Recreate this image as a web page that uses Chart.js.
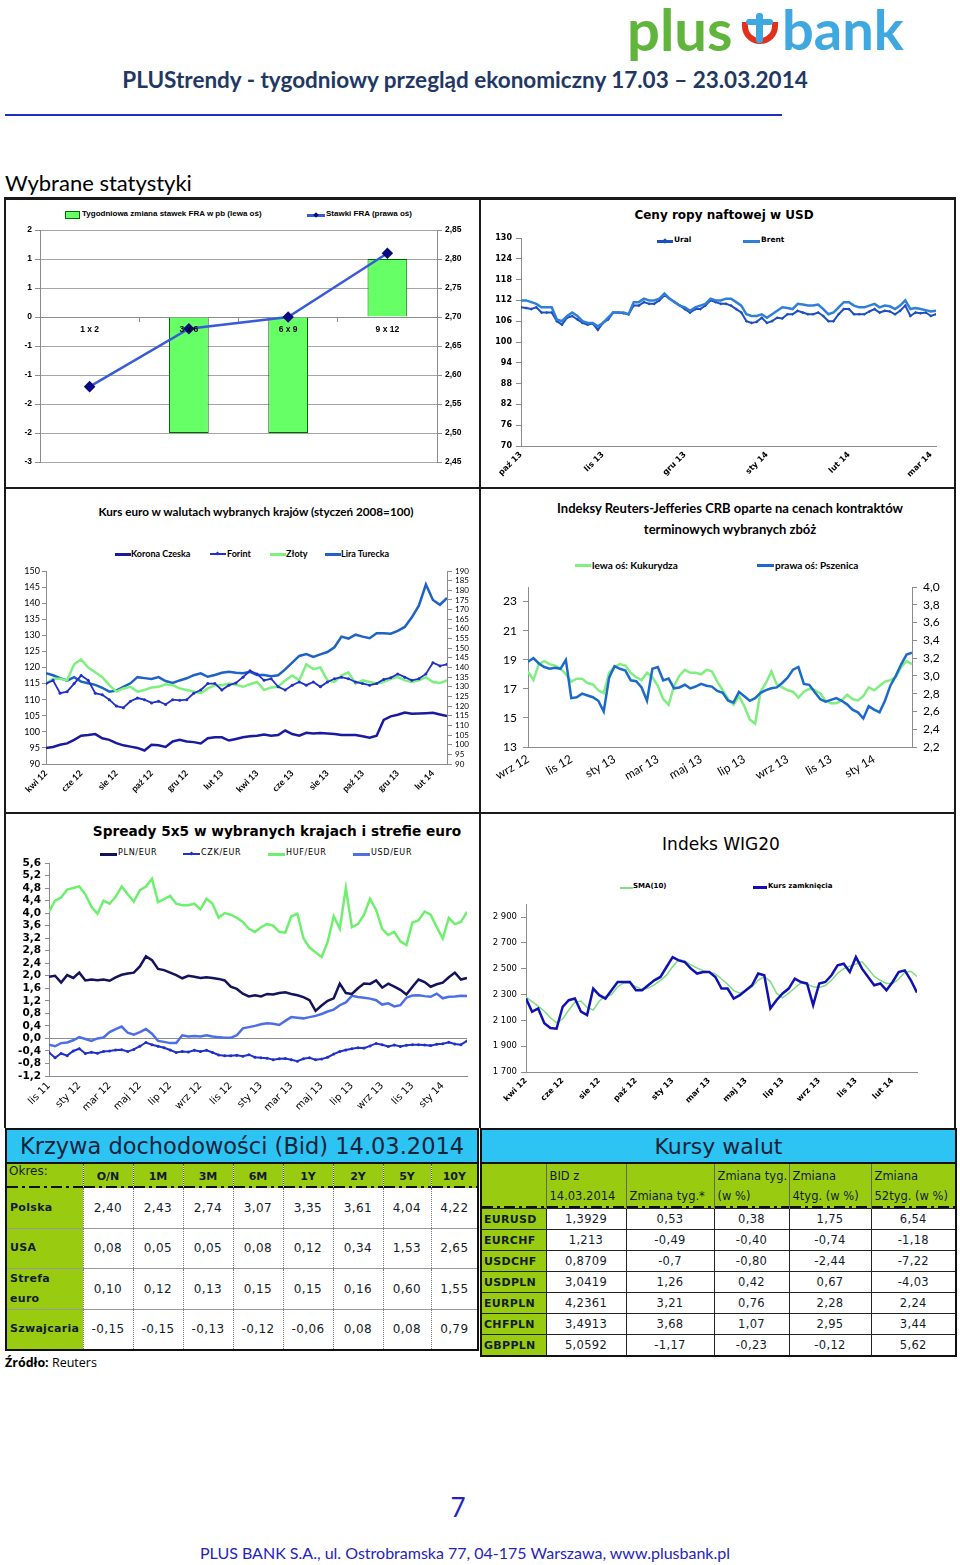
<!DOCTYPE html>
<html lang="pl">
<head>
<meta charset="utf-8">
<title>PLUStrendy 17.03 – 23.03.2014</title>
<script src="https://cdn.jsdelivr.net/npm/chart.js@4.4.1/dist/chart.umd.min.js"></script>
<style>
  html, body { margin: 0; padding: 0; background: #fff; }
  body { width: 960px; height: 1565px; position: relative; overflow: hidden; font-family: Lato, "DejaVu Sans", sans-serif; }
  .a { position: absolute; white-space: nowrap; }
  canvas { position: absolute; }
  .rule { position: absolute; background: #1a1a1a; }
  .tx { position: absolute; white-space: nowrap; line-height: 12px; color: #000; }
  .ln { position: absolute; }
  .mk { position: absolute; width: 4px; height: 4px; transform: rotate(45deg); }
  table { position: absolute; border-collapse: collapse; table-layout: fixed; font-family: "DejaVu Sans", sans-serif; color: #141c2c; }
  td { padding: 0; overflow: hidden; white-space: nowrap; }
  .ttl { background: #2dc3f2; text-align: center; color: #13233a; border-bottom: 2px solid #111; }
  .dd { background-color: #99cc11; background-image: repeating-linear-gradient(90deg, #111 0 11px, transparent 11px 15px, #111 15px 18px, transparent 18px 22px); background-size: 100% 2px; background-repeat: no-repeat; background-position: 0 100%; }
  .gr { background: #99cc11; font-weight: bold; }
  #yc { left: 5px; top: 1128px; width: 472px; border: 2px solid #111; }
  #yc .ttl { font-size: 22.5px; height: 32px; }
  #yc .hdr td { height: 24px; font-size: 11px; font-weight: bold; text-align: center; border-right: 1px dotted #555; }
  #yc .hdr td.ok { font-weight: normal; font-size: 12px; text-align: left; vertical-align: top; padding-left: 2px; }
  #yc .row td { font-size: 12px; letter-spacing: 0.4px; text-align: center; border-right: 1px dotted #777; border-bottom: 1px solid #999; background: #fff; }
  #yc .row td.gr { background: #99cc11; text-align: left; padding-left: 3px; font-size: 11px; letter-spacing: 0.3px; white-space: normal; line-height: 20px; }
  #fx { left: 480px; top: 1128px; width: 475px; border: 2px solid #111; }
  #fx .ttl { font-size: 22px; height: 32px; }
  #fx .hdr td { height: 42px; font-size: 11.5px; text-align: left; vertical-align: bottom; border-right: 1px solid #666; line-height: 20px; padding: 0 0 2px 3px; }
  #fx .row td { height: 20px; font-size: 11.5px; letter-spacing: 0.3px; text-align: center; border: 1px solid #222; background: #fff; }
  #fx .row td.gr { background: #99cc11; text-align: left; padding-left: 2px; font-size: 11px; }
</style>
</head>
<body>

<!-- nagłówek -->
<div class="a" style="left:627px;top:-6px;font:700 58px Lato;line-height:70px;color:#62b53c">plus</div>
<div class="a" style="left:742px;top:22px;width:36px;height:22px;border:6px solid #e2301f;border-top:none;border-radius:0 0 22px 22px;box-sizing:border-box"></div>
<div class="a" style="left:756px;top:13px;width:7px;height:30px;background:#3fa8e0;border-radius:3px"></div>
<div class="a" style="left:746px;top:19px;width:27px;height:6px;background:#3fa8e0;border-radius:3px"></div>
<div class="a" style="left:782px;top:-6px;font:700 56px Lato;line-height:70px;color:#3fa8e0">bank</div>
<div class="a" style="left:0;width:930px;top:65px;text-align:center;font:700 22.5px Lato;line-height:30px;color:#1f3864">PLUStrendy - tygodniowy przegląd ekonomiczny 17.03 – 23.03.2014</div>
<div class="a" style="left:5px;top:114px;width:777px;height:2px;background:#1f2fbf"></div>
<div class="a" style="left:5px;top:169px;font:400 22px Lato;line-height:28px;color:#000">Wybrane statystyki</div>

<!-- ramki -->
<div class="rule" style="left:4px;top:197px;width:952px;height:3px"></div>
<div class="rule" style="left:4px;top:197px;width:2px;height:931px"></div>
<div class="rule" style="left:954px;top:197px;width:2px;height:931px"></div>
<div class="rule" style="left:479px;top:197px;width:2px;height:931px"></div>
<div class="rule" style="left:4px;top:487px;width:952px;height:2px"></div>
<div class="rule" style="left:4px;top:812px;width:952px;height:2px"></div>

<!-- FRA -->
<div class="ln" style="left:65px;top:211px;width:15px;height:8px;background:#66ff66;border:1px solid #006600;box-sizing:border-box"></div>
<div class="tx" style="left:82px;top:209px;font:bold 8px 'Liberation Sans'">Tygodniowa zmiana stawek FRA w pb (lewa oś)</div>
<div class="ln" style="left:307px;top:214px;width:18px;height:2.5px;background:#3a5bd9"></div>
<div class="mk" style="left:314px;top:213px;background:#0a0a80"></div>
<div class="tx" style="left:326px;top:209px;font:bold 8px 'Liberation Sans'">Stawki FRA (prawa oś)</div>
<canvas id="cFra" width="472" height="255" style="left:6px;top:222px"></canvas>

<!-- ropa -->
<div class="tx" style="left:482px;width:484px;text-align:center;top:208px;font:bold 12px 'DejaVu Sans';line-height:15px">Ceny ropy naftowej w USD</div>
<div class="ln" style="left:657px;top:240px;width:16px;height:2.5px;background:#1d4fc0"></div>
<div class="mk" style="left:663px;top:239px;background:#1d4fc0"></div>
<div class="tx" style="left:674px;top:235px;font:bold 7.5px 'DejaVu Sans'">Ural</div>
<div class="ln" style="left:743px;top:240px;width:17px;height:2.5px;background:#2f7fd8"></div>
<div class="tx" style="left:761px;top:235px;font:bold 7.5px 'DejaVu Sans'">Brent</div>
<canvas id="cOil" width="470" height="262" style="left:482px;top:225px"></canvas>

<!-- kurs euro -->
<div class="tx" style="left:6px;width:500px;text-align:center;top:504px;font:bold 11.7px Lato;line-height:14px">Kurs euro w walutach wybranych krajów (styczeń 2008=100)</div>
<div class="ln" style="left:115px;top:553px;width:16px;height:2.5px;background:#1a1aa0"></div>
<div class="tx" style="left:131px;top:548px;font:bold 9px Lato">Korona Czeska</div>
<div class="ln" style="left:210px;top:553px;width:16px;height:2px;background:#2030c8"></div>
<div class="mk" style="left:216px;top:552px;background:#2030c8;width:3px;height:3px"></div>
<div class="tx" style="left:227px;top:548px;font:bold 9px Lato">Forint</div>
<div class="ln" style="left:270px;top:553px;width:16px;height:2.5px;background:#7df07d"></div>
<div class="tx" style="left:286px;top:548px;font:bold 9px Lato">Złoty</div>
<div class="ln" style="left:325px;top:553px;width:16px;height:2.5px;background:#1e63c4"></div>
<div class="tx" style="left:341px;top:548px;font:bold 9px Lato">Lira Turecka</div>
<canvas id="cEur" width="472" height="250" style="left:6px;top:560px"></canvas>

<!-- zboża -->
<div class="tx" style="left:482px;width:496px;text-align:center;top:498px;font:bold 13px Lato;line-height:21px;white-space:normal">Indeksy Reuters-Jefferies CRB oparte na cenach kontraktów<br>terminowych wybranych zbóż</div>
<div class="ln" style="left:575px;top:564px;width:16px;height:3px;background:#80ee80"></div>
<div class="tx" style="left:592px;top:559px;font:bold 10px Lato">lewa oś: Kukurydza</div>
<div class="ln" style="left:757px;top:564px;width:17px;height:3px;background:#1b6ac9"></div>
<div class="tx" style="left:775px;top:559px;font:bold 10px Lato">prawa oś: Pszenica</div>
<canvas id="cGrain" width="470" height="235" style="left:482px;top:570px"></canvas>

<!-- spready -->
<div class="tx" style="left:6px;width:542px;text-align:center;top:823px;font:bold 13.7px 'DejaVu Sans';line-height:17px">Spready 5x5 w wybranych krajach i strefie euro</div>
<div class="ln" style="left:100px;top:853px;width:17px;height:2.5px;background:#12125e"></div>
<div class="tx" style="left:118px;top:848px;font:8px 'DejaVu Sans';letter-spacing:0.7px">PLN/EUR</div>
<div class="ln" style="left:183px;top:853px;width:17px;height:2px;background:#2130c8"></div>
<div class="mk" style="left:190px;top:852px;width:3px;height:3px;background:#2130c8"></div>
<div class="tx" style="left:201px;top:848px;font:8px 'DejaVu Sans';letter-spacing:0.7px">CZK/EUR</div>
<div class="ln" style="left:268px;top:853px;width:17px;height:2.5px;background:#6ef06e"></div>
<div class="tx" style="left:286px;top:848px;font:8px 'DejaVu Sans';letter-spacing:0.7px">HUF/EUR</div>
<div class="ln" style="left:353px;top:853px;width:17px;height:2.5px;background:#4c6fe6"></div>
<div class="tx" style="left:371px;top:848px;font:8px 'DejaVu Sans';letter-spacing:0.7px">USD/EUR</div>
<canvas id="cSpr" width="472" height="280" style="left:6px;top:845px"></canvas>

<!-- WIG20 -->
<div class="tx" style="left:482px;width:478px;text-align:center;top:833px;font:17px 'DejaVu Sans';line-height:22px">Indeks WIG20</div>
<div class="ln" style="left:620px;top:887px;width:13px;height:2px;background:#7ddf7d"></div>
<div class="tx" style="left:633px;top:882px;font:bold 7px 'DejaVu Sans'">SMA(10)</div>
<div class="ln" style="left:753px;top:886px;width:14px;height:3px;background:#1010b4"></div>
<div class="tx" style="left:768px;top:882px;font:bold 7px 'DejaVu Sans'">Kurs zamknięcia</div>
<canvas id="cWig" width="470" height="230" style="left:482px;top:895px"></canvas>

<!-- tabele -->
<table id="yc"></table>
<table id="fx"></table>
<div class="a" style="left:5px;top:1355px;font:12.5px 'Open Sans';line-height:16px;color:#000"><b>Źródło:</b> Reuters</div>

<div class="a" style="left:0;width:916px;text-align:center;top:1491px;font:26px Lato;line-height:32px;color:#2323c8">7</div>
<div class="a" style="left:0;width:930px;text-align:center;top:1543px;font:16px Lato;line-height:20px;color:#2424c0">PLUS BANK S.A., ul. Ostrobramska 77, 04-175 Warszawa, www.plusbank.pl</div>

<script>
// ---- FRA ----
const fraTenors = ['1 x 2', '3 x 6', '6 x 9', '9 x 12'];
const fraChange = [0, -2, -2, 1];
const fraRate = [2.58, 2.68, 2.70, 2.81];
const fraLeftTicks = [-2.5, -2, -1.5, -1, -0.5, 0, 0.5, 1, 1.5];
const fraRightTicks = [2.45, 2.50, 2.55, 2.60, 2.65, 2.70, 2.75, 2.80, 2.85];

// ---- ropa (16 notowań na miesiąc) ----
const oilLabels = ['paź 13', 'lis 13', 'gru 13', 'sty 14', 'lut 14', 'mar 14'];
const oilPerMonth = 16;
const oilTicks = [70, 76, 82, 88, 94, 100, 106, 112, 118, 124, 130];
const oilUral = [110, 109.8, 109.5, 110, 108.5, 108.5, 108.5, 106, 105, 107, 107.5, 106.5, 105.5, 105, 105.3, 103.5,
  105.5, 106.5, 108.5, 108.5, 108.3, 108, 110.5, 110.5, 111.5, 111, 111, 112, 113.5, 112.5, 111.5, 110.5,
  109.5, 108.5, 109.5, 109.5, 110.5, 112, 111.5, 111, 111, 110.5, 109.5, 108.5, 106, 105.5, 105.8, 107,
  105.5, 106, 107, 106.8, 108, 108, 109, 108.5, 108, 108, 108.5, 107.5, 106, 106, 108, 109.5,
  109.5, 108, 108, 108, 108.8, 109.5, 108.5, 109, 108.8, 108, 109, 110.5, 107.5, 108.5, 108.3, 108.5, 107.5, 108];
const oilBrent = [112, 112, 111.5, 111, 110, 110, 110, 106.5, 106, 107.5, 108.5, 107.5, 106, 105.5, 105.5, 104.5,
  105.5, 107, 108.5, 108.5, 108.5, 108, 111.5, 111.5, 112.5, 112, 112, 112.5, 114, 112.5, 111.5, 110.5,
  110, 109, 110, 110.5, 111, 112.5, 112, 112, 112.5, 112.5, 111.5, 110.5, 108, 107.5, 107.5, 108,
  107, 108, 109, 110, 109.8, 109.5, 111, 110.8, 110.5, 110.5, 110.8, 109.5, 108, 108.5, 110, 111.5,
  111.5, 110.5, 110, 110, 110.5, 111, 110, 110.5, 110.3, 109.5, 110.5, 112, 109.5, 109.8, 109.5, 109.2, 108.8, 109];

// ---- kurs euro (5 notowań na 2 miesiące) ----
const eurLabels = ['kwi 12', 'cze 12', 'sie 12', 'paź 12', 'gru 12', 'lut 13', 'kwi 13', 'cze 13', 'sie 13', 'paź 13', 'gru 13', 'lut 14'];
const eurPer = 5;
const eurLeftTicks = [90, 95, 100, 105, 110, 115, 120, 125, 130, 135, 140, 145, 150];
const eurRightTicks = [90, 95, 100, 105, 110, 115, 120, 125, 130, 135, 140, 145, 150, 155, 160, 165, 170, 175, 180, 185, 190];
const eurCzk = [95, 95.3, 96, 96.4, 97.5, 98.8, 99, 99.3, 98, 97.5, 96.5, 95.8, 95.4, 95, 94.2, 96, 95.8, 95.3, 97, 97.5,
  97, 96.8, 96.4, 98, 98.3, 98.3, 97.3, 97.8, 98.3, 98.6, 98.8, 99.2, 98.8, 99, 100.4, 99.3, 98.8, 99.7, 99.5, 99.6,
  99.5, 99.3, 99, 99, 99, 98.6, 98.2, 98.8, 103.7, 104.8, 105.3, 106, 105.6, 105.7, 105.8, 105.9, 105.4, 104.9];
const eurHuf = [115, 116, 112, 112.5, 115, 117.5, 116, 112, 111.5, 110, 108, 107.5, 109.5, 110.5, 110, 109, 109.5, 108.5, 110, 109.8,
  110, 112, 113, 115, 115, 113, 114.5, 115.2, 117, 119, 118, 116, 116.5, 114, 113, 114.5, 115.5, 114.5, 115.5, 114,
  115.5, 116.5, 117, 116.5, 115.5, 115, 114.5, 115, 116.3, 116.8, 118, 117, 116, 116.5, 118, 121.5, 120.5, 121];
const eurPln = [115, 116.5, 116.5, 116, 121, 122.5, 120, 118.5, 117, 114.5, 112.5, 113.5, 114, 112.5, 113, 113.8, 114, 114.8, 114.5, 113.5,
  113, 112.5, 112, 113.5, 114.5, 114.5, 115, 114.6, 114, 114.8, 115.5, 113, 113.8, 114, 116, 117.5, 116, 121, 119.5, 120,
  116, 115.5, 117.5, 118.5, 115, 116, 115.5, 115, 115.5, 116.5, 117, 116, 115.5, 116, 117, 115.5, 115.2, 116];
const eurTry = [137, 136, 134.5, 133.2, 135, 132.7, 131.8, 131, 129.5, 127.5, 128, 130, 131.8, 135, 134.5, 134, 135, 133, 132, 133.3,
  134.4, 136, 137, 135.2, 136.1, 137.3, 137.8, 137.3, 137, 137.8, 136.1, 136.1, 135.5, 136, 139, 142.5, 146, 147, 145.5, 146.8,
  148, 150.5, 156, 155, 157, 156, 155.2, 157.7, 157.7, 157.5, 159, 161, 166, 172, 183, 175, 172.5, 176];

// ---- zboża (8 notowań na 2 miesiące) ----
const grainLabels = ['wrz 12', 'lis 12', 'sty 13', 'mar 13', 'maj 13', 'lip 13', 'wrz 13', 'lis 13', 'sty 14'];
const grainPer = 8;
const grainLeftTicks = [13, 15, 17, 19, 21, 23];
const grainRightTicks = [2.2, 2.4, 2.6, 2.8, 3.0, 3.2, 3.4, 3.6, 3.8, 4.0];
const grainCorn = [18.2, 17.6, 18.7, 18.9, 18.7, 18.6, 18.4, 18.0, 17.5, 17.7, 17.7, 17.4, 17.3, 16.9, 16.7, 18.1, 18.5, 18.7,
  18.6, 18.1, 17.8, 17.6, 18.1, 17.8, 17.2, 16.3, 15.9, 17.2, 17.9, 18.3, 18.1, 18.1, 18.0, 18.3, 18.2, 17.5,
  16.9, 16.3, 15.9, 16.5, 15.8, 14.9, 14.6, 16.8, 17.4, 18.2, 17.3, 17.1, 16.9, 16.8, 16.4, 16.8, 17.0, 16.9,
  16.7, 16.2, 16.0, 16.0, 16.2, 16.6, 16.3, 16.2, 16.5, 17.1, 16.9, 17.2, 17.5, 17.6, 17.8, 18.5, 18.9, 18.7];
const grainWheat = [3.16, 3.20, 3.14, 3.10, 3.08, 3.09, 3.08, 3.18, 2.75, 2.76, 2.80, 2.78, 2.76, 2.72, 2.60, 2.98, 3.11, 3.08,
  3.06, 2.95, 2.94, 2.87, 2.72, 3.08, 3.10, 2.95, 2.97, 2.86, 2.87, 2.90, 2.86, 2.88, 2.91, 2.89, 2.88, 2.83,
  2.81, 2.72, 2.70, 2.82, 2.77, 2.72, 2.75, 2.81, 2.84, 2.86, 2.87, 2.92, 2.98, 3.07, 3.10, 2.91, 2.90, 2.82,
  2.74, 2.71, 2.73, 2.75, 2.72, 2.68, 2.62, 2.59, 2.52, 2.66, 2.62, 2.59, 2.72, 2.89, 3.00, 3.13, 3.24, 3.26];

// ---- spready 5x5 (5 notowań na 2 miesiące) ----
const sprLabels = ['lis 11', 'sty 12', 'mar 12', 'maj 12', 'lip 12', 'wrz 12', 'lis 12', 'sty 13', 'mar 13', 'maj 13', 'lip 13', 'wrz 13', 'lis 13', 'sty 14'];
const sprPer = 5;
const sprTicks = [-1.2, -0.8, -0.4, 0, 0.4, 0.8, 1.2, 1.6, 2.0, 2.4, 2.8, 3.2, 3.6, 4.0, 4.4, 4.8, 5.2, 5.6];
const sprPln = [1.97, 2.0, 1.78, 2.02, 1.93, 2.1, 1.85, 1.88, 1.86, 1.88, 1.84, 1.95, 2.03, 2.07, 2.1, 2.3, 2.62, 2.5, 2.22, 2.18,
  2.1, 2.02, 1.92, 2.0, 1.97, 1.93, 1.95, 1.93, 1.9, 1.85, 1.65, 1.58, 1.43, 1.34, 1.38, 1.34, 1.42, 1.4, 1.45, 1.47,
  1.42, 1.38, 1.32, 1.22, 0.88, 1.05, 1.2, 1.28, 1.75, 1.45, 1.42, 1.6, 1.75, 1.74, 1.85, 1.62, 1.75, 1.65, 1.55, 1.4,
  1.65, 1.88, 1.8, 1.65, 1.73, 1.78, 1.95, 2.1, 1.88, 1.93];
const sprCzk = [-0.45, -0.62, -0.48, -0.55, -0.4, -0.33, -0.48, -0.44, -0.47, -0.42, -0.4, -0.37, -0.36, -0.42, -0.35, -0.25, -0.13, -0.2, -0.25, -0.3,
  -0.37, -0.45, -0.42, -0.43, -0.38, -0.42, -0.38, -0.45, -0.53, -0.55, -0.55, -0.54, -0.57, -0.52, -0.6, -0.62, -0.63, -0.68, -0.65, -0.64,
  -0.68, -0.73, -0.65, -0.62, -0.68, -0.66, -0.6, -0.5, -0.42, -0.37, -0.33, -0.3, -0.31, -0.24, -0.16, -0.2, -0.26, -0.21, -0.26, -0.22,
  -0.2, -0.2, -0.21, -0.23, -0.19, -0.17, -0.12, -0.18, -0.2, -0.08];
const sprHuf = [4.04, 4.4, 4.5, 4.75, 4.8, 4.85, 4.6, 4.2, 3.98, 4.4, 4.3, 4.52, 4.85, 4.6, 4.36, 4.73, 4.85, 5.1, 4.35, 4.45,
  4.55, 4.3, 4.25, 4.25, 4.3, 4.12, 4.46, 4.3, 3.85, 4.0, 3.95, 3.85, 3.72, 3.5, 3.4, 3.55, 3.65, 3.6, 3.4, 3.38,
  3.9, 3.98, 3.2, 2.9, 2.75, 2.6, 3.08, 3.9, 3.5, 4.8, 3.55, 3.65, 3.95, 4.46, 4.1, 3.5, 3.3, 3.4, 3.1, 2.98,
  3.7, 3.77, 4.05, 3.95, 3.55, 3.19, 3.85, 3.65, 3.72, 4.04];
const sprUsd = [-0.2, -0.25, -0.15, -0.13, -0.06, 0.04, -0.02, -0.08, 0.0, 0.03, 0.2, 0.3, 0.38, 0.18, 0.12, 0.2, 0.3, 0.15, -0.08, -0.11,
  -0.15, -0.15, 0.1, 0.06, 0.08, 0.06, 0.1, 0.06, 0.04, 0.02, 0.02, 0.1, 0.32, 0.36, 0.4, 0.45, 0.48, 0.47, 0.43, 0.56,
  0.68, 0.66, 0.64, 0.68, 0.72, 0.78, 0.86, 0.92, 1.06, 1.15, 1.36, 1.32, 1.3, 1.27, 1.22, 1.08, 1.12, 1.02, 1.06, 1.3,
  1.37, 1.38, 1.35, 1.33, 1.43, 1.28, 1.33, 1.34, 1.36, 1.35];

// ---- WIG20 (6 notowań na etykietę) ----
const wigLabels = ['kwi 12', 'cze 12', 'sie 12', 'paź 12', 'sty 13', 'mar 13', 'maj 13', 'lip 13', 'wrz 13', 'lis 13', 'lut 14'];
const wigPer = 6;
const wigTicks = [1700, 1900, 2100, 2300, 2500, 2700, 2900];
const wigClose = [2269, 2167, 2192, 2077, 2040, 2035, 2205, 2256, 2269, 2167, 2141, 2346, 2295, 2269, 2333, 2397, 2397, 2397, 2333, 2333,
  2372, 2410, 2436, 2513, 2590, 2564, 2551, 2500, 2462, 2474, 2474, 2436, 2346, 2346, 2269, 2295, 2333, 2372, 2462, 2449,
  2192, 2256, 2308, 2346, 2423, 2397, 2385, 2218, 2385, 2397, 2449, 2526, 2538, 2474, 2590, 2500, 2436, 2372, 2385, 2333,
  2397, 2474, 2487, 2410, 2315];
const wigSma = [2280, 2245, 2210, 2170, 2120, 2080, 2110, 2180, 2240, 2250, 2200, 2180, 2250, 2285, 2300, 2360, 2390, 2390, 2360, 2340,
  2350, 2375, 2410, 2450, 2515, 2570, 2560, 2530, 2505, 2485, 2475, 2460, 2420, 2380, 2330, 2310, 2330, 2360, 2410, 2440,
  2400, 2310, 2275, 2310, 2350, 2390, 2380, 2360, 2355, 2370, 2410, 2465, 2500, 2520, 2535, 2555, 2500, 2440, 2410, 2385,
  2385, 2420, 2470, 2480, 2440];

// ---- tabele ----
const ycTenors = ['O/N', '1M', '3M', '6M', '1Y', '2Y', '5Y', '10Y'];
const ycCountries = ['Polska', 'USA', 'Strefa euro', 'Szwajcaria'];
const ycValues = [
  [2.40, 2.43, 2.74, 3.07, 3.35, 3.61, 4.04, 4.22],
  [0.08, 0.05, 0.05, 0.08, 0.12, 0.34, 1.53, 2.65],
  [0.10, 0.12, 0.13, 0.15, 0.15, 0.16, 0.60, 1.55],
  [-0.15, -0.15, -0.13, -0.12, -0.06, 0.08, 0.08, 0.79]
];
const fxPairs = ['EURUSD', 'EURCHF', 'USDCHF', 'USDPLN', 'EURPLN', 'CHFPLN', 'GBPPLN'];
const fxBid = ['1,3929', '1,213', '0,8709', '3,0419', '4,2361', '3,4913', '5,0592'];
const fxWeek = ['0,53', '-0,49', '-0,7', '1,26', '3,21', '3,68', '-1,17'];
const fxWeekPct = ['0,38', '-0,40', '-0,80', '0,42', '0,76', '1,07', '-0,23'];
const fx4wPct = ['1,75', '-0,74', '-2,44', '0,67', '2,28', '2,95', '-0,12'];
const fx52wPct = ['6,54', '-1,18', '-7,22', '-4,03', '2,24', '3,44', '5,62'];

Chart.defaults.animation = false;
Chart.defaults.responsive = false;
Chart.defaults.font.family = 'Lato';
Chart.defaults.color = '#000';
Chart.defaults.plugins.legend.display = false;
Chart.defaults.plugins.tooltip.enabled = false;
Chart.defaults.elements.point.radius = 0;
Chart.defaults.elements.line.tension = 0;

const pts = (vals, per) => vals.map((v, i) => ({ x: i / per, y: v }));
const setTicks = list => s => { s.ticks = list.map(v => ({ value: v })); };
const comma = d => v => Number(v).toFixed(d).replace('.', ',');
const GRAY = '#8c8c8c';

function timeAxis(labels, n, per, font, rot, h, pad) {
  return {
    type: 'linear', min: 0, max: (n - 1) / per,
    afterBuildTicks: setTicks(labels.map((_, i) => i)),
    afterFit: s => { s.height = h; },
    ticks: { autoSkip: false, maxRotation: rot, minRotation: rot, padding: pad, font, callback: v => labels[v] },
    grid: { display: false, drawTicks: false },
    border: { color: GRAY }
  };
}

function valAxis(o) {
  return {
    position: o.pos || 'left', min: o.min, max: o.max,
    afterBuildTicks: setTicks(o.ticks),
    afterFit: s => { s.width = o.w; },
    ticks: { autoSkip: false, font: o.font, padding: o.pad === undefined ? 3 : o.pad, callback: o.fmt || (v => v) },
    grid: { drawOnChartArea: !!o.grid, color: o.grid || GRAY, tickColor: GRAY, tickLength: o.tl || 5 },
    border: { color: GRAY }
  };
}

function line(data, color, width, extra) {
  return Object.assign({ data, borderColor: color, backgroundColor: color, borderWidth: width, pointRadius: 0 }, extra || {});
}

// FRA
const fraFont = { family: 'Liberation Sans', size: 8.5, weight: 'bold' };
new Chart(document.getElementById('cFra'), {
  type: 'bar',
  data: {
    labels: fraTenors,
    datasets: [
      { type: 'bar', data: fraChange, yAxisID: 'y', backgroundColor: '#66ff66', borderColor: '#006600', borderWidth: 1,
        barPercentage: 0.4, categoryPercentage: 1, order: 1 },
      { type: 'line', data: fraRate, yAxisID: 'y2', borderColor: '#3a5bd9', borderWidth: 2.5, pointStyle: 'rectRot',
        pointRadius: 4, pointBackgroundColor: '#0a0a80', pointBorderColor: '#0a0a80', order: 0 }
    ]
  },
  options: {
    layout: { padding: { top: 8, bottom: 15 } },
    scales: {
      x: { position: { y: 0 }, ticks: { font: fraFont, padding: 3, z: 1 },
           grid: { drawOnChartArea: false, tickLength: 4, color: GRAY, offset: true }, border: { color: GRAY } },
      y: valAxis({ min: -2.5, max: 1.5, ticks: fraLeftTicks, w: 34, grid: '#a6a6a6', font: fraFont,
                   fmt: v => Math.sign(v) * Math.round(Math.abs(v)) }),
      y2: valAxis({ pos: 'right', min: 2.45, max: 2.85, ticks: fraRightTicks, w: 41, font: fraFont, fmt: comma(2) })
    }
  }
});

// ropa
new Chart(document.getElementById('cOil'), {
  type: 'line',
  data: { datasets: [
    line(pts(oilBrent, oilPerMonth), '#2f7fd8', 2.5),
    line(pts(oilUral, oilPerMonth), '#1d4fc0', 2, { pointRadius: 1.6, pointStyle: 'rectRot', pointBorderWidth: 0 })
  ] },
  options: {
    layout: { padding: { top: 13, right: 16 } },
    scales: {
      x: timeAxis(oilLabels, oilUral.length, oilPerMonth, { family: 'DejaVu Sans', size: 8, weight: 'bold' }, 45, 41, 4),
      y: valAxis({ min: 70, max: 130, ticks: oilTicks, w: 39, pad: 4, font: { family: 'DejaVu Sans', size: 8, weight: 'bold' } })
    }
  }
});

// kurs euro
new Chart(document.getElementById('cEur'), {
  type: 'line',
  data: { datasets: [
    line(pts(eurCzk, eurPer), '#1a1aa0', 2.5),
    line(pts(eurHuf, eurPer), '#2030c8', 1.8, { pointRadius: 1.5, pointBorderWidth: 0 }),
    line(pts(eurPln, eurPer), '#7df07d', 2.5),
    line(pts(eurTry, eurPer), '#1e63c4', 2.5, { yAxisID: 'y2' })
  ] },
  options: {
    layout: { padding: { top: 11 } },
    scales: {
      x: timeAxis(eurLabels, eurCzk.length, eurPer, { family: 'Lato', size: 9, weight: 'bold' }, 45, 46, 4),
      y: valAxis({ min: 90, max: 150, ticks: eurLeftTicks, w: 40, tl: 4, pad: 2, font: { family: 'Lato', size: 9 } }),
      y2: valAxis({ pos: 'right', min: 90, max: 190, ticks: eurRightTicks, w: 31, pad: 3, font: { family: 'Lato', size: 8 } })
    }
  }
});

// zboża
new Chart(document.getElementById('cGrain'), {
  type: 'line',
  data: { datasets: [
    line(pts(grainWheat, grainPer), '#1b6ac9', 2.5, { yAxisID: 'y2' }),
    line(pts(grainCorn, grainPer), '#80ee80', 2.5)
  ] },
  options: {
    layout: { padding: { top: 17 } },
    scales: {
      x: timeAxis(grainLabels, grainCorn.length, grainPer, { family: 'Lato', size: 12 }, 30, 58, 5),
      y: valAxis({ min: 13, max: 24, ticks: grainLeftTicks, w: 46, pad: 6, font: { family: 'Lato', size: 12 } }),
      y2: valAxis({ pos: 'right', min: 2.2, max: 4.0, ticks: grainRightTicks, w: 40, pad: 6,
                    font: { family: 'Lato', size: 12 }, fmt: comma(1) })
    }
  }
});

// spready
const sprY = valAxis({ min: -1.2, max: 5.6, ticks: sprTicks, w: 43, pad: 4,
                       font: { family: 'DejaVu Sans', size: 10.5, weight: 'bold' }, fmt: comma(1) });
sprY.grid = { drawOnChartArea: true, tickColor: GRAY, tickLength: 4,
              color: c => (c.tick && c.tick.value === 0 ? '#8c8c8c' : 'rgba(0,0,0,0)') };
new Chart(document.getElementById('cSpr'), {
  type: 'line',
  data: { datasets: [
    line(pts(sprPln, sprPer), '#12125e', 2.5),
    line(pts(sprCzk, sprPer), '#2130c8', 2, { pointRadius: 1.5, pointBorderWidth: 0 }),
    line(pts(sprHuf, sprPer), '#6ef06e', 2.5),
    line(pts(sprUsd, sprPer), '#4c6fe6', 2.5)
  ] },
  options: {
    layout: { padding: { top: 18, right: 11 } },
    scales: {
      x: timeAxis(sprLabels, sprPln.length, sprPer, { family: 'DejaVu Sans', size: 10 }, 45, 49, 4),
      y: sprY
    }
  }
});

// WIG20
new Chart(document.getElementById('cWig'), {
  type: 'line',
  data: { datasets: [
    line(pts(wigClose, wigPer), '#1010b4', 2.5),
    line(pts(wigSma, wigPer), '#7ddf7d', 1.5)
  ] },
  options: {
    layout: { padding: { top: 9, right: 35 } },
    scales: {
      x: timeAxis(wigLabels, wigClose.length, wigPer, { family: 'DejaVu Sans', size: 8, weight: 'bold' }, 45, 53, 4),
      y: valAxis({ min: 1700, max: 3000, ticks: wigTicks, w: 44, pad: 4, font: { family: 'DejaVu Sans', size: 8.5 },
                   fmt: v => String(v).replace(/\B(?=(\d{3})+(?!\d))/g, ' ') })
    }
  }
});

// tabela: krzywa dochodowości
const yc = document.getElementById('yc');
let html = '<colgroup><col style="width:77px">' + [50, 50, 50, 50, 50, 50, 48, 47].map(w => `<col style="width:${w}px">`).join('') + '</colgroup>';
html += '<tr><td class="ttl" colspan="9">Krzywa dochodowości (Bid) 14.03.2014</td></tr>';
html += '<tr class="hdr"><td class="dd ok">Okres:</td>' + ycTenors.map(t => `<td class="dd">${t}</td>`).join('') + '</tr>';
ycCountries.forEach((c, r) => {
  const h = r < 2 ? 40 : 41;
  html += `<tr class="row" style="height:${h}px"><td class="gr">${c}</td>` +
    ycValues[r].map(v => `<td>${comma(2)(v)}</td>`).join('') + '</tr>';
});
yc.innerHTML = html;

// tabela: kursy walut
const fx = document.getElementById('fx');
let fh = '<colgroup>' + [65, 80, 88, 75, 82, 85].map(w => `<col style="width:${w}px">`).join('') + '</colgroup>';
fh += '<tr><td class="ttl" colspan="6">Kursy walut</td></tr>';
fh += '<tr class="hdr"><td class="dd"></td><td class="dd">BID z<br>14.03.2014</td><td class="dd">Zmiana tyg.*</td>' +
      '<td class="dd">Zmiana tyg.<br>(w %)</td><td class="dd">Zmiana<br>4tyg. (w %)</td><td class="dd">Zmiana<br>52tyg. (w %)</td></tr>';
fxPairs.forEach((p, i) => {
  fh += `<tr class="row"><td class="gr">${p}</td><td>${fxBid[i]}</td><td>${fxWeek[i]}</td><td>${fxWeekPct[i]}</td>` +
        `<td>${fx4wPct[i]}</td><td>${fx52wPct[i]}</td></tr>`;
});
fx.innerHTML = fh;
</script>
</body>
</html>
